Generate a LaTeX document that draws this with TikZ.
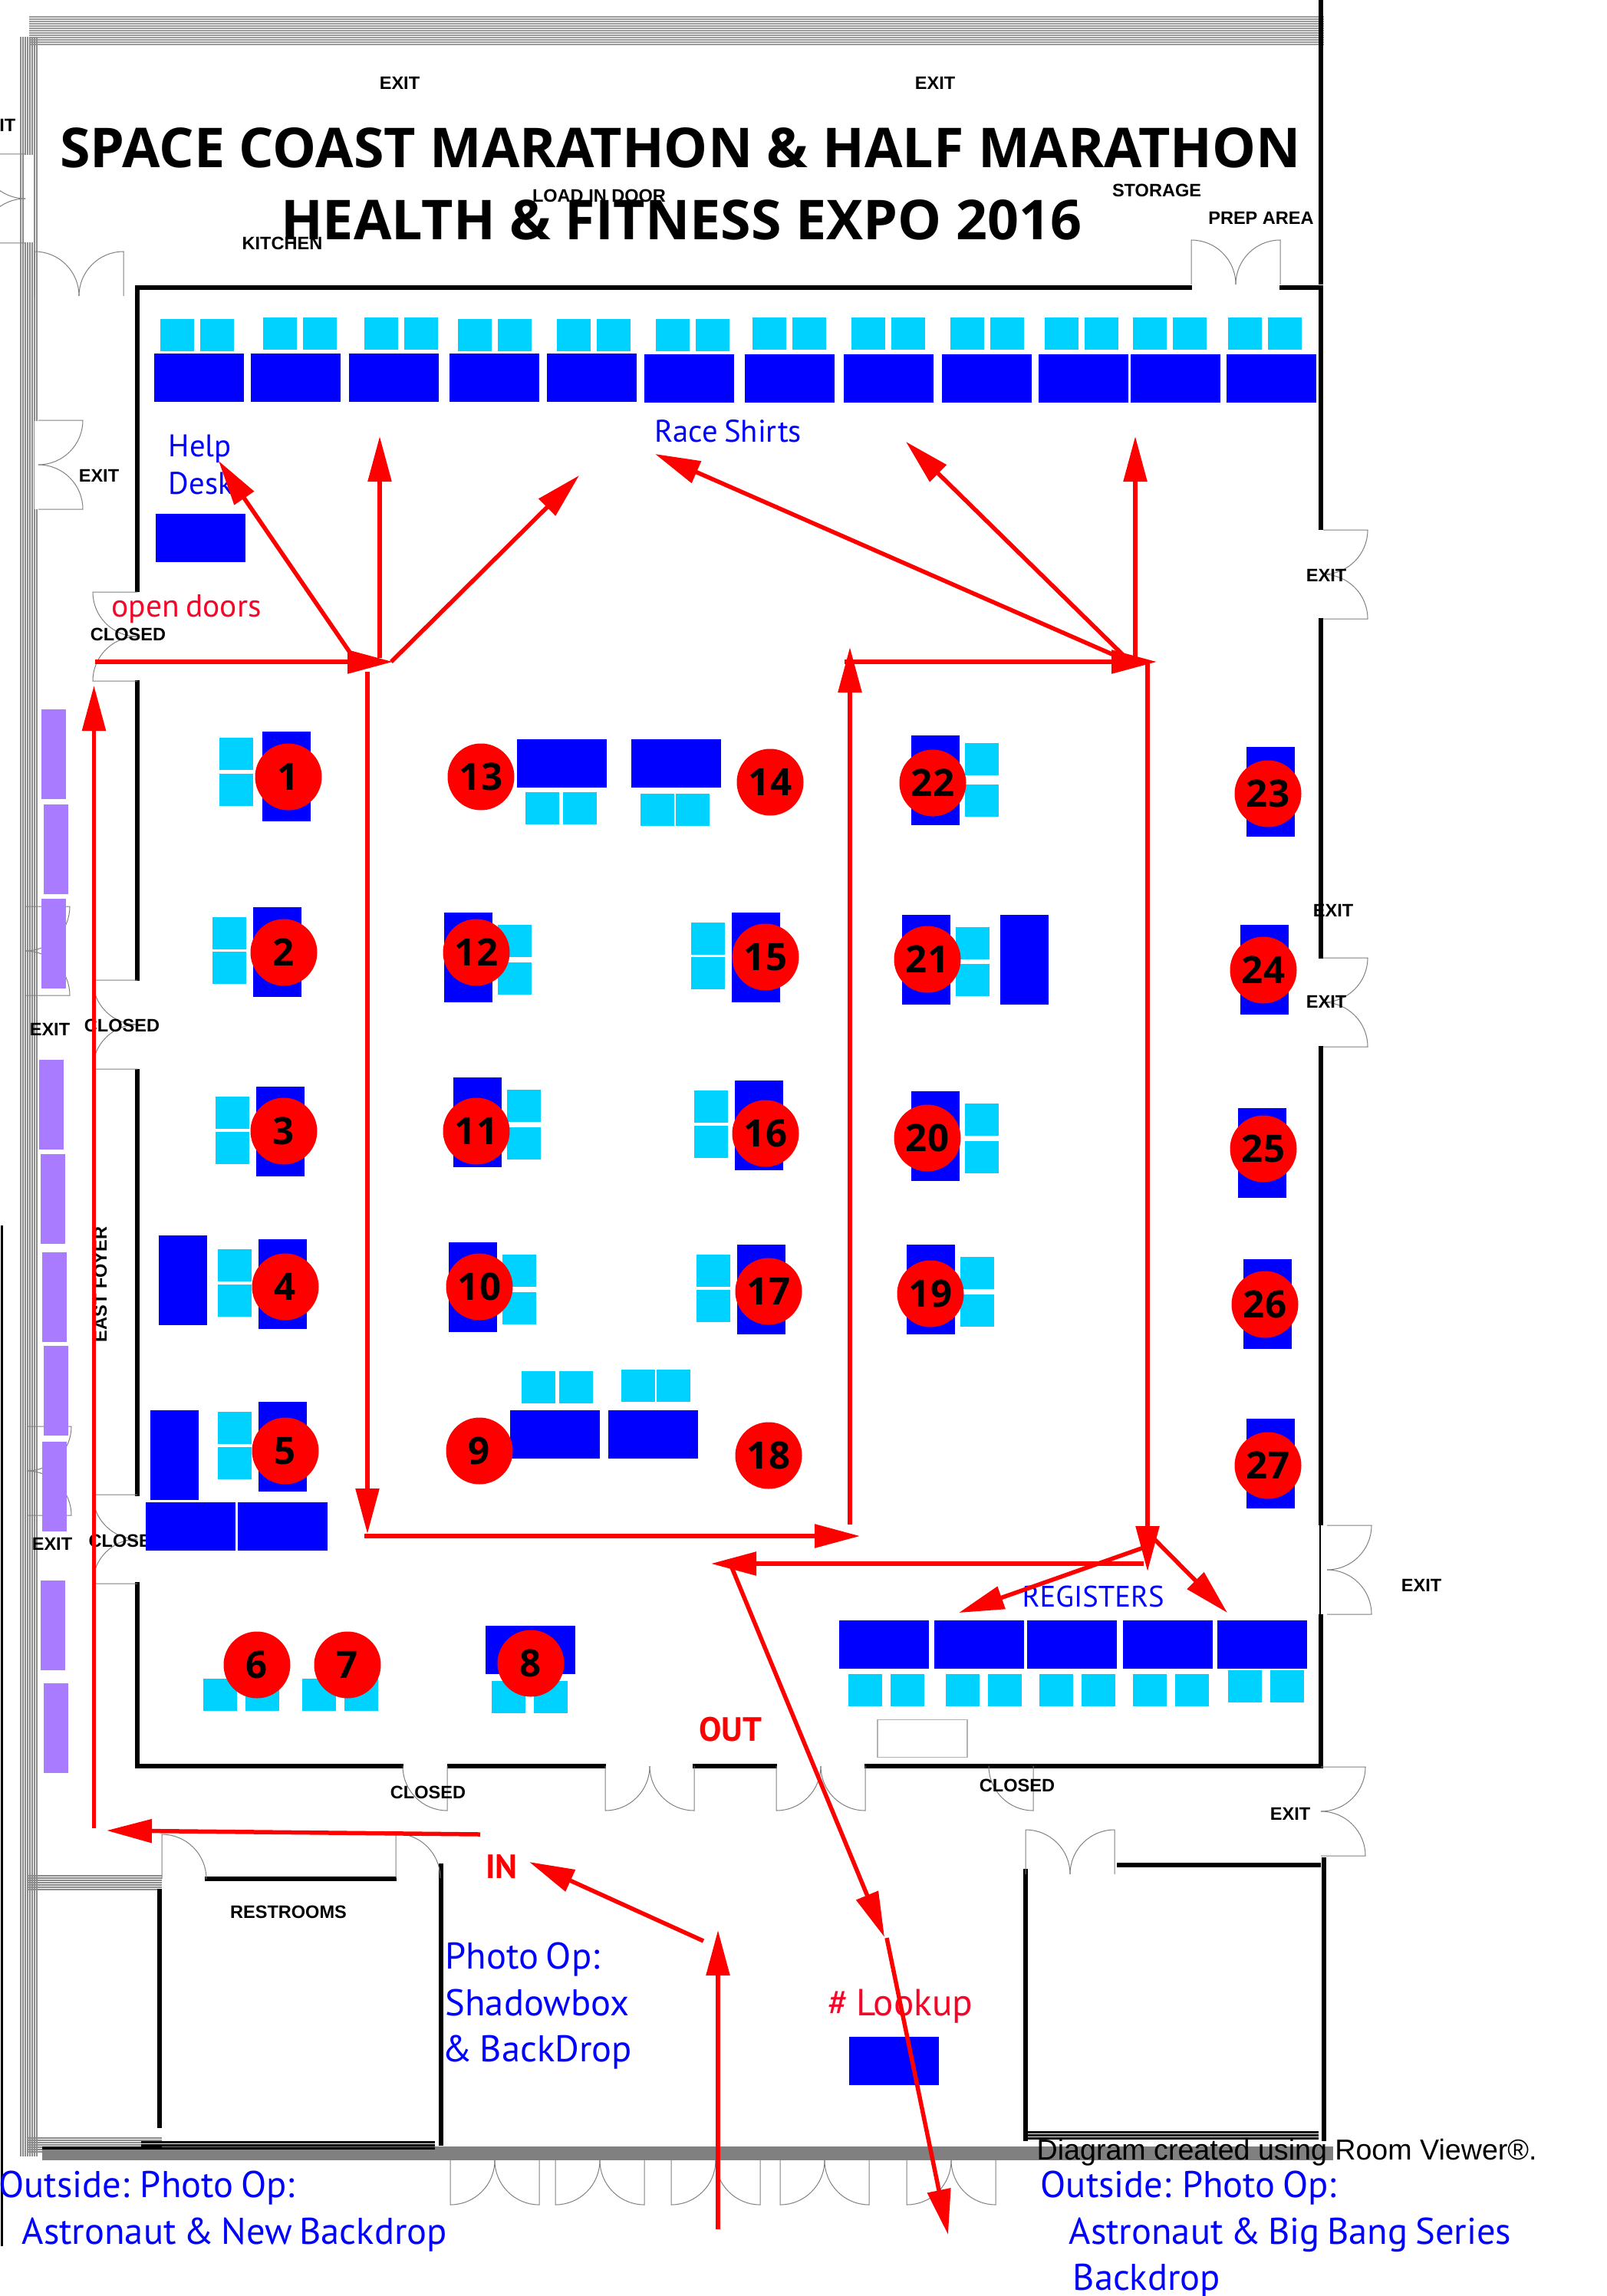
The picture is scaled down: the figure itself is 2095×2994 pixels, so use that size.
\documentclass[tikz,border=0pt]{standalone}
\usepackage{fontspec}
\setmainfont{Liberation Sans}
\newfontfamily\myriad[WordSpace=0.75]{PT Sans}
\newfontfamily\heavy{Open Sans}
\usetikzlibrary{arrows.meta}
\definecolor{tableblue}{RGB}{0,0,255}
\definecolor{chaircyan}{RGB}{0,210,255}
\definecolor{posterpurple}{RGB}{168,123,255}
\definecolor{textred}{RGB}{245,5,40}
\tikzset{
  htable/.style={
    draw=none, fill=tableblue, anchor=north west, inner sep=0pt,
    minimum width=11.7mm, minimum height=6.3mm, xshift=-.2mm, yshift=.15mm,
  },
  vtable/.style={
    draw=none, fill=tableblue, anchor=north west, inner sep=0pt,
    minimum width=6.3mm, minimum height=11.7mm, xshift=-.2mm, yshift=.15mm,
  },
  chair/.style={
    draw=none, fill=chaircyan, anchor=north west, inner sep=0pt,
    minimum width=4.4mm, minimum height=4.2mm, xshift=-.2mm, yshift=.15mm,
  },
  poster/.style={
    draw=none, fill=posterpurple, anchor=north west, inner sep=0pt,
    minimum width=3.2mm, minimum height=11.7mm,
  },
  booth/.style={
    circle, fill=red, inner sep=0pt, minimum size=8.7mm, yshift=-.2mm,
    font=\heavy\bfseries\fontsize{14}{15}\selectfont,
  },
  wall/.style={draw=black, line width=.55mm},
  doorline/.style={draw=gray, line width=.1mm},
  room label/.style={inner sep=0pt, font=\bfseries\fontsize{6.7}{7}\selectfont},
  blue label/.style={inner sep=0pt, anchor=base west, text=tableblue, font=\myriad\fontsize{11.6}{12}\selectfont},
  blue large/.style={blue label, font=\myriad\fontsize{13.8}{14}\selectfont},
  red label/.style={inner sep=0pt, anchor=base west, text=textred, font=\myriad\fontsize{11.8}{12}\selectfont},
  big red/.style={inner sep=0pt, text=red, font=\myriad\bfseries\fontsize{12.5}{13}\selectfont},
  title line/.style={inner sep=0pt, font=\heavy\bfseries\fontsize{20.4}{22}\selectfont},
  flow/.style={draw=red, line width=.55mm, -{Triangle[length=5.9mm,width=3mm]}},
  dbldoor/.pic={
    \draw[doorline] (-58,0) -- (-58,-58) arc[start angle=90, end angle=0, radius=5.8mm];
    \draw[doorline] (58,0) -- (58,-58) arc[start angle=90, end angle=180, radius=5.8mm];
  },
  onedoor/.pic={
    \draw[doorline] (0,0) -- (0,-58) arc[start angle=90, end angle=0, radius=5.8mm];
  },
}
\begin{document}
\begin{tikzpicture}[x=0.1mm, y=-0.1mm]
\useasboundingbox (0,0) rectangle (2095,2994);

% outer bands
\foreach \y in {22,25,...,58}
  \draw[gray!78, line width=.2mm] (38,\y) -- (1726,\y);
\foreach \x in {27,30,...,50}
  \draw[gray!90, line width=.2mm] (\x,48) -- (\x,2812);
\foreach \y in {2446,2449,...,2465}
  \draw[gray!90, line width=.2mm] (37,\y) -- (211,\y);
\foreach \y in {2788,2791,...,2808}
  \draw[gray!90, line width=.2mm] (37,\y) -- (211,\y);
\fill[gray] (55,2799) rectangle (1738,2817);
\draw[black, line width=.3mm] (2,1598) -- (2,2929);

% hall walls
\draw[wall] (1722,0) -- (1722,371);
\draw[wall] (1554,375) -- (179,375) -- (179,772);
\draw[wall] (1668,375) -- (1722,375) -- (1722,691);
\draw[wall] (1722,806) -- (1722,1250);
\draw[wall] (1722,1364) -- (1722,1989);
\draw[black, line width=.2mm] (1721,1989) -- (1721,2105);
\draw[wall] (1722,2105) -- (1722,2303) -- (1127,2303);
\draw[wall] (179,887) -- (179,1279);
\draw[wall] (179,1394) -- (179,1951);
\draw[wall] (179,2063) -- (179,2303) -- (526,2303);
\draw[wall] (583,2303) -- (790,2303);
\draw[wall] (903,2303) -- (1013,2303);

% restrooms and the room on the right
\draw[wall] (267,2450) -- (517,2450);
\draw[wall] (208,2463) -- (208,2775);
\draw[wall, line width=.6mm] (575,2430) -- (575,2798);
\draw[wall, line width=.4mm] (55,2801) -- (211,2801);
\foreach \y in {2793,2797,2801}
  \draw[black, line width=.3mm] (184,\y) -- (567,\y);
\draw[wall] (1337,2437) -- (1337,2792);
\draw[wall] (1456,2432) -- (1722,2432);
\draw[wall] (1726,2422) -- (1726,2792);
\foreach \y in {2780,2784,2788}
  \draw[black, line width=.3mm] (1337,\y) -- (1719,\y);

% doors
\fill[white] (32,202) rectangle (43,316);
\fill[white] (45,549) rectangle (50,664);
\pic[rotate=90] at (33,259) {dbldoor};
\pic[rotate=-90] at (50,606) {dbldoor};
\pic at (103,386) {dbldoor};
\pic at (1611,371) {dbldoor};
\pic[rotate=90] at (179,830) {dbldoor};
\pic[rotate=90] at (179,1336) {dbldoor};
\pic[rotate=90] at (179,2007) {dbldoor};
\pic[rotate=-90] at (1725,749) {dbldoor};
\pic[rotate=-90] at (1725,1307) {dbldoor};
\pic[rotate=-90] at (1730,2047) {dbldoor};
\pic[rotate=-90] at (1722,2362) {dbldoor};
\pic[rotate=-90] at (33,1240) {dbldoor};
\pic[rotate=-90] at (35,1918) {dbldoor};
\pic[rotate=180] at (847,2303) {dbldoor};
\pic[rotate=180] at (1070,2303) {dbldoor};
\pic[rotate=180] at (583,2303) {onedoor};
\pic[rotate=180] at (1347,2303) {onedoor};
\pic at (211,2450) {onedoor};
\pic at (516,2449) {onedoor};
\pic at (1395,2444) {dbldoor};
\foreach \x in {645,782,933,1075,1240}
  \pic[rotate=180] at (\x,2817) {dbldoor};

% room labels
\foreach \x/\y [count=\i] in {521/108,1219/108,129/620,1729/750,1738/1187,1729/1306,65/1342,68/2013,1853/2067,1682/2365}
  \node[room label] (exit-\i) at (\x,\y) {EXIT};
\node[room label, anchor=east] (exit-cut) at (21,163) {EXIT};
\foreach \x/\y [count=\i] in {167/827,159/1337,558/2337,1326/2328}
  \node[room label] (closed-\i) at (\x,\y) {CLOSED};
\node[room label, anchor=west] (closed-cut) at (115,2009) {CLOSED};
\node[room label] (load) at (781,255) {LOAD IN DOOR};
\node[room label] (kitchen) at (368,317) {KITCHEN};
\node[room label] (storage) at (1508,248) {STORAGE};
\node[room label] (prep) at (1644,284) {PREP AREA};
\node[room label, rotate=90] (foyer) at (131,1675) {EAST FOYER};
\node[room label] (restrooms) at (376,2493) {RESTROOMS};

% title
\node[title line] (title-1) at (887,193) {SPACE COAST MARATHON \& HALF MARATHON};
\node[title line] (title-2) at (888,287) {HEALTH \& FITNESS EXPO 2016};

% posters along the east wall
\foreach \x/\y [count=\i] in {53/924,56/1048,53/1171,50/1381,52/1504,54/1632,56/1754,54/1879,52/2060,56/2194}
  \node[poster] (poster-\i) at (\x,\y) {};

% long tables
\foreach \x/\y [count=\i] in {202/462,328/462,456/462,587/462,714/462,841/463,972/463,1101/463,1229/463,1355/463,1475/463,1600/463}
  \node[htable] (shirts-\i) at (\x,\y) {};
\foreach \x [count=\i] in {1095,1219,1340,1465,1588}
  \node[htable] (register-\i) at (\x,2114) {};
\foreach \x/\y [count=\i] in {675/965,824/965,666/1840,794/1840,191/1960,311/1960,634/2121}
  \node[htable] (hall-\i) at (\x,\y) {};
\node[htable] (help) at (204,671) {};
\node[htable] (lookup) at (1108,2657) {};
\node[htable, fill=white, draw=gray!60, line width=.15mm, minimum height=4.9mm] (spare) at (1145,2243) {};
\foreach \x/\y [count=\i] in {343/955,331/1184,335/1418,338/1617,338/1829,208/1612,197/1840,580/1191,592/1406,586/1621,955/1191,959/1410,962/1624,1189/960,1177/1194,1305/1194,1189/1424,1183/1624,1626/975,1618/1207,1615/1446,1622/1643,1626/1851}
  \node[vtable] (stand-\i) at (\x,\y) {};

% chairs
\foreach \x/\y [count=\i] in {210/417,262/417,344/415,396/415,476/415,528/415,598/417,650/417,727/417,779/417,856/417,908/417,982/415,1034/415,1111/415,1163/415,1240/415,1292/415,1363/415,1415/415,1478/415,1530/415,1602/415,1654/415}
  \node[chair] (top-\i) at (\x,\y) {};
\foreach \x/\y [count=\i] in {287/963,287/1010,278/1197,278/1242,282/1431,282/1477,285/1630,285/1676,285/1842,285/1888,650/1207,650/1256,662/1422,662/1471,656/1637,656/1686,902/1204,902/1249,906/1423,906/1469,909/1637,909/1683,1259/970,1259/1024,1247/1210,1247/1258,1259/1440,1259/1489,1253/1640,1253/1689}
  \node[chair] (side-\i) at (\x,\y) {};
\foreach \x/\y [count=\i] in {686/1034,735/1034,836/1036,882/1036,681/1789,730/1789,811/1787,857/1787,266/2190,321/2190,395/2190,450/2190,642/2193,697/2193,1107/2184,1162/2184,1234/2184,1289/2184,1356/2184,1411/2184,1478/2184,1533/2184,1602/2179,1657/2179}
  \node[chair] (low-\i) at (\x,\y) {};

% booths
\foreach \x/\y [count=\i] in {376/1011,370/1240,370/1473,372/1676,372/1890,335/2169,453/2169,692/2167,625/1890,625/1676,621/1473,621/1240,627/1011,1004/1018,998/1246,998/1476,1002/1682,1002/1896,1213/1685,1209/1482,1209/1249,1216/1019,1653/1033,1647/1263,1647/1496,1649/1699,1653/1909}
  \node[booth] (booth-\i) at (\x,\y) {\i};

% printed notes
\node[blue label] (race) at (853,576) {Race Shirts};
\node[blue label] (help-1) at (219,595) {Help};
\node[blue label] (help-2) at (219,644) {Desk};
\node[red label] (doors) at (145,804) {open doors};
\node[blue label, font=\myriad\fontsize{11}{12}\selectfont] (registers) at (1332,2095) {REGISTERS};
\node[big red] (out) at (952,2255) {OUT};
\node[big red] (in) at (654,2434) {IN};
\node[blue large] (photo-1) at (580,2567) {Photo Op:};
\node[blue large] (photo-2) at (580,2628) {Shadowbox};
\node[blue large] (photo-3) at (576,2688) {\& BackDrop};
\node[blue large, anchor=base east] (out-l1) at (385,2865) {Outside: Photo Op:};
\node[blue large] (out-l2) at (28,2926) {Astronaut \& New Backdrop};
\node[blue large] (out-r1) at (1356,2865) {Outside: Photo Op:};
\node[blue large] (out-r2) at (1393,2926) {Astronaut \& Big Bang Series};
\node[blue large] (out-r3) at (1398,2986) {Backdrop};
\node[red label, font=\myriad\fontsize{14}{15}\selectfont] (number) at (1079,2628) {\# Lookup};
\node[inner sep=0pt, anchor=west, font=\fontsize{10.7}{11}\selectfont] (credit) at (1351,2807) {Diagram created using Room Viewer®.};

% walking route
\coordinate (r-a) at (122.5,2384);
\coordinate (r-b) at (122.5,894);
\coordinate (r-c) at (124,863);
\coordinate (r-d) at (512,863);
\coordinate (r-e) at (495,858);
\coordinate (r-f) at (495,569);
\coordinate (r-g) at (457,852);
\coordinate (r-h) at (285,601);
\coordinate (r-i) at (510,863);
\coordinate (r-j) at (755,620);
\coordinate (r-k) at (479,876);
\coordinate (r-l) at (479,2000);
\coordinate (r-m) at (475,2003);
\coordinate (r-n) at (1121,2003);
\coordinate (r-o) at (1108,1988);
\coordinate (r-p) at (1108,844);
\coordinate (r-q) at (1101,863);
\coordinate (r-r) at (1508,863);
\coordinate (r-s) at (1461,858);
\coordinate (r-t) at (854,592);
\coordinate (r-u) at (1465,855);
\coordinate (r-v) at (1181,576);
\coordinate (r-w) at (1480,858);
\coordinate (r-x) at (1480,569);
\coordinate (s-a) at (1496,864);
\coordinate (s-b) at (1496,2049);
\coordinate (s-c) at (1498,2000);
\coordinate (s-d) at (1600,2103);
\coordinate (s-e) at (1491,2018);
\coordinate (s-f) at (1250,2103);
\coordinate (s-g) at (1491,2039);
\coordinate (s-h) at (927,2039);
\coordinate (s-i) at (954,2044);
\coordinate (s-j) at (1153,2526);
\coordinate (s-k) at (1156,2527);
\coordinate (s-l) at (1236,2914);
\coordinate (s-m) at (936,2907);
\coordinate (s-n) at (936,2517);
\coordinate (s-o) at (917,2531);
\coordinate (s-p) at (690,2428);
\coordinate (s-q) at (626,2392);
\coordinate (s-r) at (139,2387);
\foreach \p/\q in {r-a/r-b,r-c/r-d,r-e/r-f,r-g/r-h,r-i/r-j,r-k/r-l,r-m/r-n,r-o/r-p,r-q/r-r,r-s/r-t,r-u/r-v,r-w/r-x,s-a/s-b,s-c/s-d,s-e/s-f,s-g/s-h,s-i/s-j,s-k/s-l,s-m/s-n,s-o/s-p,s-q/s-r}
  \draw[flow] (\p) -- (\q);
\end{tikzpicture}
\end{document}
